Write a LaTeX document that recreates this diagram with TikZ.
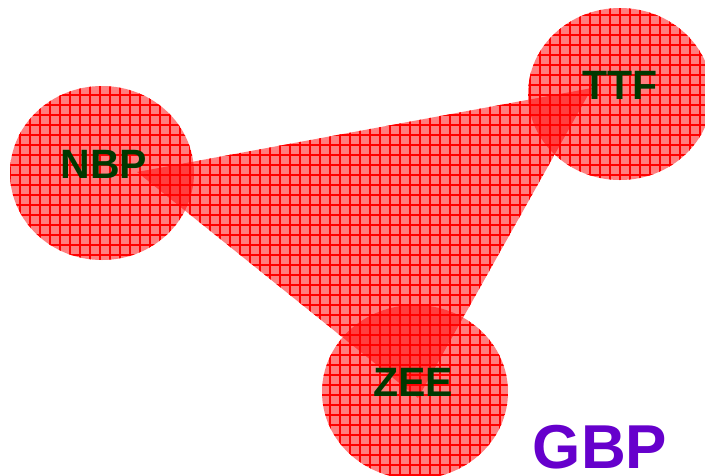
\documentclass[tikz,border=0pt]{standalone}
\usepackage{fontspec}
\setmainfont{Liberation Sans}
\usetikzlibrary{shapes.geometric,patterns.meta}
\definecolor{labelgreen}{RGB}{0,56,0}
\definecolor{tagpurple}{RGB}{102,0,204}
\tikzset{
  hatched/.style={
    fill=red, fill opacity=0.5, draw=none,
    postaction={pattern={Lines[angle=0,distance=10pt,line width=1.3pt]}, pattern color=red},
    postaction={pattern={Lines[angle=90,distance=10pt,line width=1.3pt]}, pattern color=red}},
  blob/.style={hatched, ellipse, inner sep=0pt},
  lbl/.style={text=labelgreen, font=\bfseries\fontsize{41}{41}\selectfont, inner sep=0pt}
}
\begin{document}
\begin{tikzpicture}[x=1pt,y=-1pt]
  \useasboundingbox (0,0) rectangle (705,475);
  % three market ellipses
  \node[blob, minimum width=184pt, minimum height=174pt] (nbp) at (102,173) {};
  \node[blob, minimum width=184pt, minimum height=172pt] (ttf) at (620,94) {};
  \node[blob, minimum width=186pt, minimum height=174pt] (zee) at (415,392) {};
  % triangle joining them
  \coordinate (pn) at (137,172);
  \coordinate (pt) at (592,88);
  \coordinate (pz) at (418,398);
  \path[hatched] (pn) -- (pt) -- (pz) -- cycle;
  % labels
  \node[lbl] (nbpl) at (104,164) {NBP};
  \node[lbl] (ttfl) at (620,85) {TTF};
  \node[lbl] (zeel) at (413,382) {ZEE};
  \node[text=tagpurple, font=\bfseries\fontsize{62}{62}\selectfont, inner sep=0pt] (gbp) at (600,447) {GBP};
\end{tikzpicture}
\end{document}
